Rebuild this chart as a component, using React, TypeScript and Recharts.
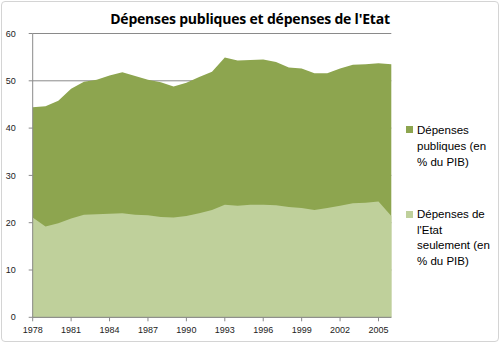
import React from "react";
import { AreaChart, Area, XAxis, YAxis, CartesianGrid } from "recharts";

const years = [1978,1979,1980,1981,1982,1983,1984,1985,1986,1987,1988,1989,1990,1991,1992,1993,1994,1995,1996,1997,1998,1999,2000,2001,2002,2003,2004,2005,2006];
const depensesPubliques = [44.4,44.6,45.8,48.3,49.8,50.2,51.1,51.8,51.0,50.2,49.7,48.8,49.6,50.8,51.9,54.9,54.3,54.4,54.5,54.0,52.8,52.6,51.6,51.6,52.6,53.4,53.5,53.7,53.5];
const depensesEtat = [21.1,19.2,19.9,20.9,21.7,21.8,21.9,22.0,21.7,21.6,21.2,21.1,21.4,22.0,22.7,23.8,23.6,23.8,23.8,23.7,23.3,23.1,22.7,23.1,23.6,24.1,24.2,24.5,21.4];
const xTicks = [1978,1981,1984,1987,1990,1993,1996,1999,2002,2005];
const yTicks = [0,10,20,30,40,50,60];
const title = "Dépenses publiques et dépenses de l'Etat";
const legendPub = ["Dépenses", "publiques (en", "% du PIB)"];
const legendEtat = ["Dépenses de", "l'Etat", "seulement (en", "% du PIB)"];

const data = years.map((y, i) => ({ year: y, pub: depensesPubliques[i], etat: depensesEtat[i] }));

const DARK = "#8da54f";
const LIGHT = "#bfd09b";
const FONT = "'Liberation Sans', Arial, sans-serif";

export default function App() {
  return (
    <div style={{ position: "absolute", left: 0, top: 0, width: 500, height: 343, background: "#fff", fontFamily: FONT }}>
      <div style={{ position: "absolute", left: 1, top: 1, width: 496, height: 339, border: "1px solid #d4d4d4", borderRadius: 4 }} />
      <div style={{ position: "absolute", left: 0, top: 9, width: 500, textAlign: "center", fontFamily: "'Open Sans', sans-serif", fontWeight: 700, fontSize: 14, color: "#000", letterSpacing: -0.2 }}>
        {title}
      </div>
      <AreaChart width={500} height={343} data={data} margin={{ top: 33.5, right: 108.7, bottom: 0, left: 0 }}>
        <CartesianGrid horizontal={true} vertical={false} stroke="#8a8a8a" strokeWidth={1} />
        <XAxis dataKey="year" type="number" domain={[1978, 2006]} ticks={xTicks} height={25.7} tickSize={4} tickMargin={5}
          stroke="#8a8a8a" tick={{ fill: "#222", fontSize: 9, fontFamily: FONT }} interval={0} />
        <YAxis domain={[0, 60]} ticks={yTicks} width={32.7} tickSize={4} tickMargin={13}
          stroke="#8a8a8a" tick={{ fill: "#222", fontSize: 9, fontFamily: FONT }} interval={0} />
        <Area type="linear" dataKey="pub" fill={DARK} fillOpacity={1} stroke="none" isAnimationActive={false} />
        <Area type="linear" dataKey="etat" fill={LIGHT} fillOpacity={1} stroke="none" isAnimationActive={false} />
      </AreaChart>
      <div style={{ position: "absolute", left: 406, top: 122, fontSize: 11.5, lineHeight: "16px", color: "#000" }}>
        <div style={{ position: "absolute", left: 0, top: 4, width: 7, height: 7, background: DARK }} />
        <div style={{ marginLeft: 11 }}>{legendPub.map((t, i) => <div key={i} style={{ whiteSpace: "nowrap" }}>{t}</div>)}</div>
      </div>
      <div style={{ position: "absolute", left: 406, top: 207, fontSize: 11.5, lineHeight: "15.5px", color: "#000" }}>
        <div style={{ position: "absolute", left: 0, top: 4, width: 7, height: 7, background: LIGHT }} />
        <div style={{ marginLeft: 11 }}>{legendEtat.map((t, i) => <div key={i} style={{ whiteSpace: "nowrap" }}>{t}</div>)}</div>
      </div>
    </div>
  );
}
